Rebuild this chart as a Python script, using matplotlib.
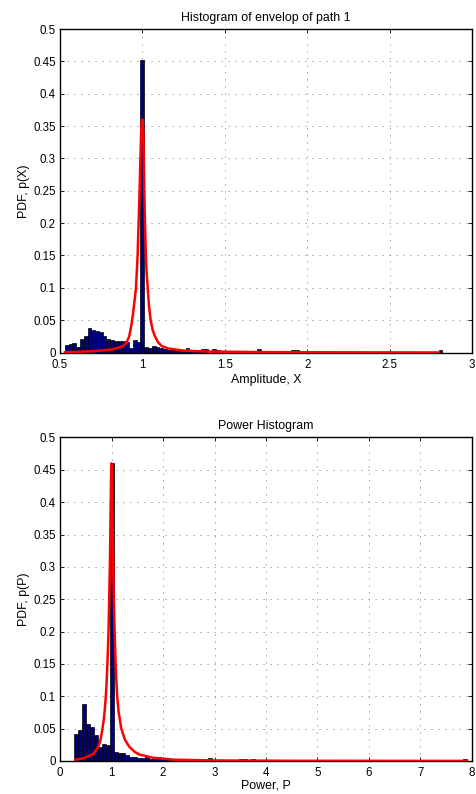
import matplotlib
matplotlib.use("Agg")

import numpy as np
import matplotlib.pyplot as plt

# ---------------------------------------------------------
# Data
# ---------------------------------------------------------
# envelope histogram (100 bins starting at 0.53, bin width 0.0229)
amp_start = 0.53
amp_width = 0.0229
amp_pdf = [
    0.0113, 0.0134, 0.0144, 0.0093, 0.0206, 0.0258, 0.0380, 0.0345, 0.0335, 0.0310,
    0.0260, 0.0210, 0.0200, 0.0175, 0.0175, 0.0186, 0.0160, 0.0070, 0.0190, 0.0160,
    0.4520, 0.0088, 0.0072, 0.0103, 0.0082, 0.0067, 0.0057, 0.0040, 0.0072, 0.0040,
    0.0020, 0.0036, 0.0072, 0.0020, 0.0020, 0.0020, 0.0060, 0.0060, 0.0000, 0.0060,
    0.0036, 0.0030, 0.0030, 0.0000, 0.0000, 0.0000, 0.0030, 0.0000, 0.0000, 0.0000,
    0.0030, 0.0060, 0.0000, 0.0000, 0.0000, 0.0030, 0.0000, 0.0000, 0.0000, 0.0030,
    0.0040, 0.0040, 0.0000, 0.0000, 0.0000, 0.0000, 0.0000, 0.0000, 0.0000, 0.0000,
    0.0000, 0.0000, 0.0000, 0.0000, 0.0000, 0.0000, 0.0000, 0.0000, 0.0000, 0.0000,
    0.0000, 0.0000, 0.0000, 0.0000, 0.0000, 0.0000, 0.0000, 0.0000, 0.0000, 0.0000,
    0.0000, 0.0000, 0.0000, 0.0000, 0.0000, 0.0000, 0.0000, 0.0000, 0.0000, 0.0040,
]
# theoretical envelope pdf (red curve)
amp_curve_x = [0.53, 0.65, 0.75, 0.82, 0.86, 0.884, 0.905, 0.92, 0.935, 0.943,
               0.95, 0.956, 0.961, 0.966, 0.971, 0.977, 0.983, 0.988, 0.993, 0.997,
               1.0, 1.003, 1.006, 1.009, 1.012, 1.016, 1.021, 1.026, 1.032, 1.04,
               1.05, 1.062, 1.076, 1.095, 1.117, 1.16, 1.25, 1.4, 1.7, 2.2, 2.8]
amp_curve_y = [0.0005, 0.0015, 0.003, 0.005, 0.008, 0.010, 0.016, 0.025, 0.045, 0.060,
               0.075, 0.088, 0.100, 0.125, 0.150, 0.200, 0.250, 0.300, 0.345, 0.358,
               0.360, 0.355, 0.335, 0.290, 0.245, 0.195, 0.150, 0.122, 0.100, 0.072,
               0.050, 0.035, 0.025, 0.016, 0.010, 0.006, 0.003, 0.0015, 0.0007, 0.0003,
               0.0001]

# power histogram (100 bins starting at 0.28, bin width 0.0762)
pow_start = 0.28
pow_width = 0.0762
pow_pdf = [
    0.0410, 0.0480, 0.0880, 0.0570, 0.0520, 0.0400, 0.0220, 0.0260, 0.0250, 0.4600,
    0.0144, 0.0120, 0.0120, 0.0090, 0.0067, 0.0057, 0.0040, 0.0040, 0.0080, 0.0030,
    0.0026, 0.0057, 0.0046, 0.0040, 0.0020, 0.0020, 0.0010, 0.0000, 0.0010, 0.0025,
    0.0000, 0.0000, 0.0000, 0.0000, 0.0040, 0.0000, 0.0000, 0.0000, 0.0020, 0.0000,
    0.0000, 0.0000, 0.0025, 0.0025, 0.0000, 0.0030, 0.0000, 0.0000, 0.0000, 0.0000,
    0.0000, 0.0000, 0.0000, 0.0000, 0.0000, 0.0000, 0.0000, 0.0000, 0.0000, 0.0000,
    0.0000, 0.0000, 0.0000, 0.0000, 0.0000, 0.0000, 0.0000, 0.0000, 0.0000, 0.0000,
    0.0000, 0.0000, 0.0000, 0.0000, 0.0000, 0.0000, 0.0000, 0.0000, 0.0000, 0.0000,
    0.0000, 0.0000, 0.0000, 0.0000, 0.0000, 0.0000, 0.0000, 0.0000, 0.0000, 0.0000,
    0.0000, 0.0000, 0.0000, 0.0000, 0.0000, 0.0000, 0.0000, 0.0000, 0.0000, 0.0025,
]
pow_curve_x = [0.3, 0.45, 0.565, 0.65, 0.73, 0.78, 0.825, 0.85, 0.87, 0.89,
               0.905, 0.92, 0.932, 0.942, 0.955, 0.968, 0.98, 0.99, 0.996, 1.0,
               1.004, 1.012, 1.022, 1.033, 1.045, 1.06, 1.08, 1.095, 1.11, 1.14,
               1.19, 1.26, 1.345, 1.45, 1.54, 1.8, 2.2, 3.0, 4.5, 7.9]
pow_curve_y = [0.002, 0.004, 0.008, 0.011, 0.020, 0.030, 0.050, 0.064, 0.080, 0.100,
               0.122, 0.150, 0.175, 0.200, 0.250, 0.300, 0.370, 0.430, 0.455, 0.460,
               0.455, 0.430, 0.370, 0.300, 0.250, 0.200, 0.150, 0.123, 0.100, 0.075,
               0.050, 0.033, 0.022, 0.014, 0.010, 0.005, 0.002, 0.0008, 0.0003, 0.0001]

amp_xticks = [0.5, 1, 1.5, 2, 2.5, 3]
pow_xticks = [0, 1, 2, 3, 4, 5, 6, 7, 8]
pdf_yticks = [0, 0.05, 0.1, 0.15, 0.2, 0.25, 0.3, 0.35, 0.4, 0.45, 0.5]

BAR_C = "#00007F"
LINE_C = "#FF0000"
GRID_C = "#8C8C8C"

plt.rcParams["font.family"] = ["Liberation Sans", "DejaVu Sans"]


def fmt(v):
    return f"{v:g}"


def style_axes(ax, xlim, xticks, xlabel, ylabel, title, xpad):
    ax.set_xlim(*xlim)
    ax.set_ylim(0, 0.5)
    ax.set_xticks(xticks)
    ax.set_xticklabels([fmt(t) for t in xticks])
    ax.set_yticks(pdf_yticks)
    ax.set_yticklabels([fmt(t) for t in pdf_yticks])
    ax.grid(True, ls=(0, (1.2, 6)), color=GRID_C, lw=0.7)
    ax.set_axisbelow(True)
    ax.tick_params(direction="in", top=True, right=True, length=3, width=0.6,
                   labelsize=8.3)
    ax.tick_params(axis="x", pad=4.5)
    ax.tick_params(axis="y", pad=3)
    for s in ax.spines.values():
        s.set_linewidth(1.0)
        s.set_color("black")
    ax.set_xlabel(xlabel, fontsize=8.9, labelpad=xpad)
    ax.set_ylabel(ylabel, fontsize=8.9, labelpad=2)
    ax.set_title(title, fontsize=8.9, pad=6)


fig = plt.figure(figsize=(4.77, 7.94), dpi=100)

# top panel: envelope
ax1 = fig.add_axes([0.1258, 0.556, 0.8637, 0.4074])
edges1 = amp_start + amp_width * np.arange(len(amp_pdf))
ax1.bar(edges1, amp_pdf, width=amp_width, align="edge", color=BAR_C,
        edgecolor="black", linewidth=0.5, zorder=2)
ax1.plot(amp_curve_x, amp_curve_y, color=LINE_C, lw=1.8, zorder=3)
style_axes(ax1, (0.5, 3), amp_xticks, "Amplitude, X", "PDF, p(X)",
           "Histogram of envelop of path 1", 2.5)

# bottom panel: power
ax2 = fig.add_axes([0.1258, 0.0416, 0.8637, 0.4074])
edges2 = pow_start + pow_width * np.arange(len(pow_pdf))
ax2.bar(edges2, pow_pdf, width=pow_width, align="edge", color=BAR_C,
        edgecolor="black", linewidth=0.5, zorder=2)
ax2.plot(pow_curve_x, pow_curve_y, color=LINE_C, lw=1.8, zorder=3)
style_axes(ax2, (0, 8), pow_xticks, "Power, P", "PDF, p(P)", "Power Histogram", 0.5)

fig.savefig("out.png", dpi=100)
